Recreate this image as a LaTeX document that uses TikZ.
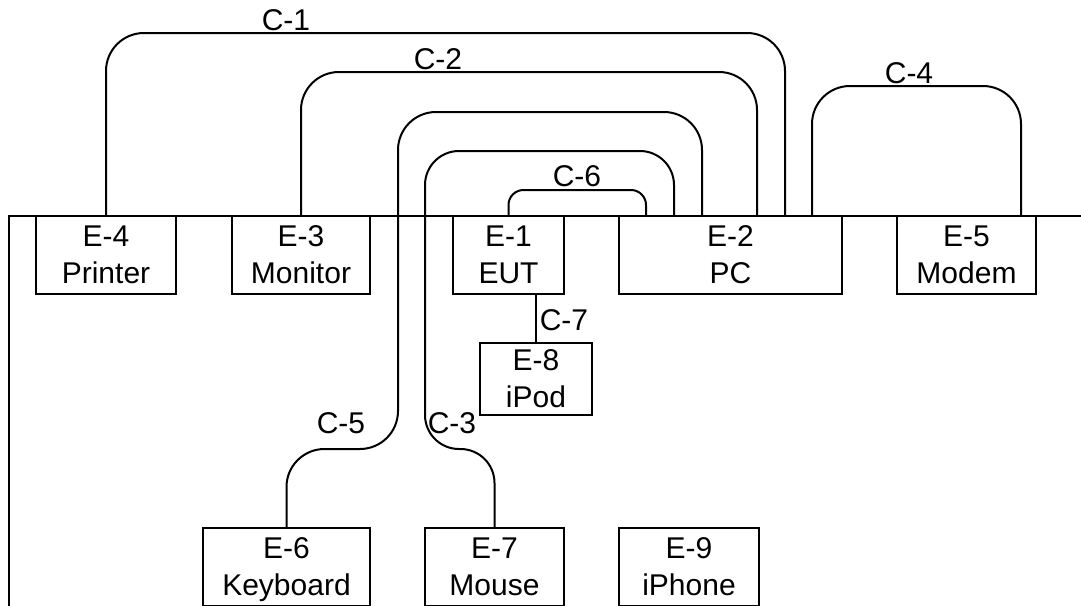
\documentclass[tikz,border=0pt]{standalone}
\usepackage{fontspec}
\setmainfont{Liberation Sans}
\usetikzlibrary{calc}

\begin{document}
\begin{tikzpicture}[x=0.5pt, y=-0.5pt, line width=1pt,
    font=\fontsize{15pt}{18.5pt}\selectfont,
    unit/.style={rectangle, draw, inner sep=0pt, align=center, text height=32pt, text depth=4pt, minimum height=39pt},
    cable/.style={rounded corners=19pt},
    tag/.style={inner sep=0pt}]
    \clip (0,0) rectangle (1081,605);

    % table edge
    \draw (9,620) -- (9,216) -- (1090,216);

    % units on the table
    \node[unit, minimum width=70pt] (e4) at (106,255) {E-4\\Printer};
    \node[unit, minimum width=69pt] (e3) at (301,255) {E-3\\Monitor};
    \node[unit, minimum width=55.5pt] (e1) at (508.5,255) {E-1\\EUT};
    \node[unit, minimum width=111.5pt] (e2) at (730.5,255) {E-2\\PC};
    \node[unit, minimum width=69.5pt] (e5) at (966.5,255) {E-5\\Modem};
    \node[unit, minimum width=56pt, minimum height=33pt] (e8) at (536,379) {E-8\\iPod};

    % units below
    \node[unit, minimum width=83.5pt] (e6) at (286.5,567) {E-6\\Keyboard};
    \node[unit, minimum width=69.5pt] (e7) at (494.5,567) {E-7\\Mouse};
    \node[unit, minimum width=70pt] (e9) at (689,567) {E-9\\iPhone};

    % ports on the PC and the modem
    \coordinate (pc6) at ($(e2.north west)+(28,0)$);
    \coordinate (pc3) at ($(e2.north west)+(56,0)$);
    \coordinate (pc5) at ($(e2.north west)+(84,0)$);
    \coordinate (pc2) at ($(e2.north west)+(139,0)$);
    \coordinate (pc1) at ($(e2.north west)+(167,0)$);
    \coordinate (pc4) at ($(e2.north west)+(194,0)$);
    \coordinate (mo4) at ($(e5.north west)+(125,0)$);

    % cables
    \draw[cable] (e4.north) -- ++(0,-182) -| (pc1);
    \draw[cable] (e3.north) -- ++(0,-143) -| (pc2);
    \draw[cable, rounded corners=17pt] (e7.north) -- ++(0,-78) -- ++(-69.5,0) -- ++(0,-298) -| (pc3);
    \draw[cable] (pc4) -- ++(0,-129) -| (mo4);
    \draw[cable] (e6.north) -- ++(0,-78) -- ++(111.5,0) -- ++(0,-337) -| (pc5);
    \draw[cable, rounded corners=7.5pt] (e1.north) -- ++(0,-25) -| (pc6);
    \draw (e8.north |- e1.south) -- (e8.north);

    \node[tag] (c1) at (286,20) {C-1};
    \node[tag] (c2) at (438,59) {C-2};
    \node[tag] (c3) at (452,423) {C-3};
    \node[tag] (c4) at (909,73) {C-4};
    \node[tag] (c5) at (341,423) {C-5};
    \node[tag] (c6) at (577,176) {C-6};
    \node[tag] (c7) at (564,320) {C-7};
\end{tikzpicture}
\end{document}
